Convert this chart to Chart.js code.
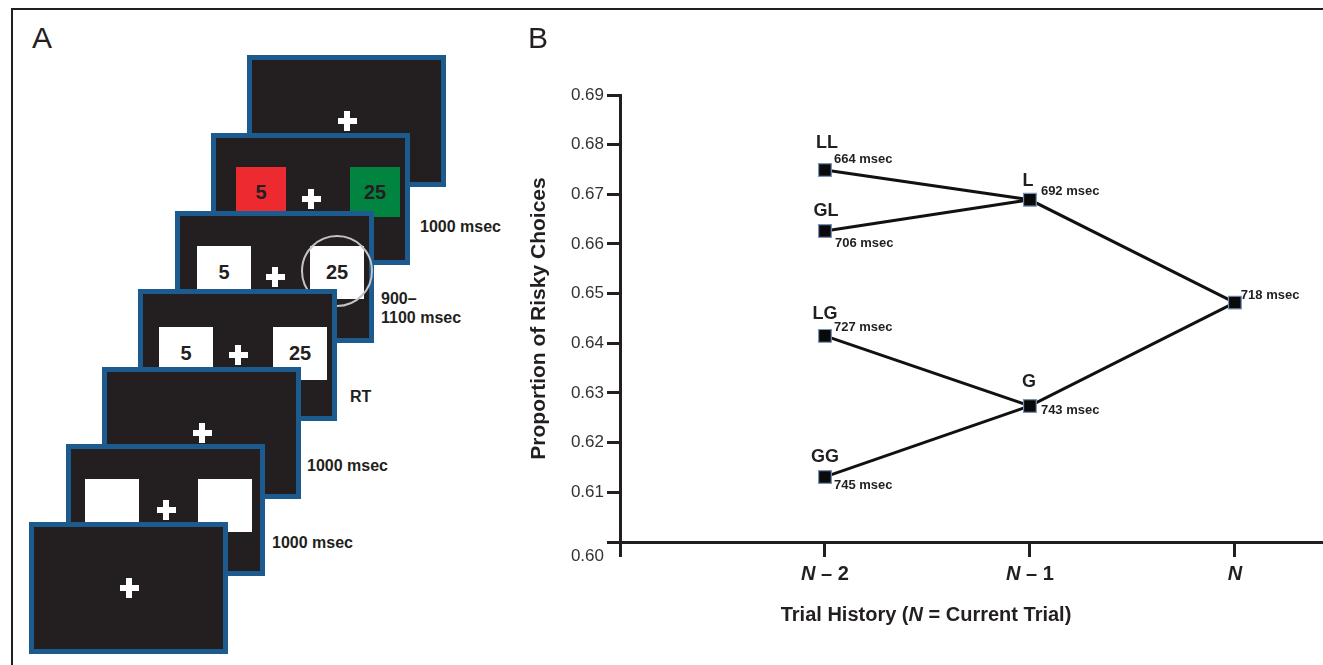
<!DOCTYPE html>
<html>
<head>
<meta charset="utf-8">
<script src="https://cdn.jsdelivr.net/npm/chart.js@4.4.1/dist/chart.umd.min.js"></script>
<style>
  html, body { margin: 0; padding: 0; background: #fff; }
  body {
    width: 1323px; height: 665px; position: relative; overflow: hidden;
    font-family: 'Liberation Sans', Arial, Helvetica, sans-serif; color: #231f20;
  }
  .frame-top { position: absolute; left: 11px; top: 8px; width: 1312px; height: 2px; background: #231f20; }
  .frame-left { position: absolute; left: 11px; top: 8px; width: 2px; height: 657px; background: #231f20; }
  .panel-letter { position: absolute; top: 23px; font-size: 30px; line-height: 30px; z-index: 20; }
  .screen {
    position: absolute; width: 189px; height: 122px;
    border: 5px solid #1d5b8f; background: #231f20;
  }
  .stim {
    position: absolute; display: flex; align-items: center; justify-content: center;
    font-weight: bold; font-size: 20px; color: #231f20;
  }
  .bar { position: absolute; background: #fff; }
  .ring { position: absolute; box-sizing: border-box; border: 2px solid #c4c4c4; border-radius: 50%; }
  .duration { position: absolute; font-weight: bold; font-size: 16px; line-height: 16px; white-space: nowrap; }
  #chartBox { position: absolute; left: 520px; top: 0; width: 803px; height: 665px; }
</style>
</head>
<body>
<div class="frame-top"></div>
<div class="frame-left"></div>
<div class="panel-letter" style="left:32px">A</div>
<div class="panel-letter" style="left:528px">B</div>
<div id="panelA"></div>
<div id="chartBox"><canvas id="chart"></canvas></div>

<script>
// ---- panel B data ----
const TRIAL_LABELS = ['N \u2013 2', 'N \u2013 1', 'N'];   // x = 1, 2, 3
const X_TICKS = [0, 1, 2, 3];
const Y_TICKS = [0.60, 0.61, 0.62, 0.63, 0.64, 0.65, 0.66, 0.67, 0.68, 0.69];

const HISTORY = ['LL', 'GL', 'LG', 'GG', 'L', 'G', ''];
const HISTORY_TRIAL = [1, 1, 1, 1, 2, 2, 3];
const RISKY_PROPORTION = [0.6749, 0.6626, 0.6415, 0.6131, 0.6689, 0.6274, 0.6482];
const RT_MSEC = [664, 706, 727, 745, 692, 743, 718];
// which conditions are joined by a line
const PATHS = [[0, 4, 6], [1, 4], [2, 5, 6], [3, 5]];

// label offsets (px) from each marker: [dx, dy]
const NAME_OFFSET = [[2, -27], [1, -20], [0, -22], [0, -20], [-2, -19], [-1, -24], null];
const RT_OFFSET = [[9, -11], [10, 12], [9, -8], [9, 8], [11, -8], [11, 5], [6, -7]];

// ---- panel A layout ----
const SCREENS = [
  { left: 247, top: 55 },
  { left: 211, top: 133, boxes: [
    { x: 20, y: 29, w: 50, h: 50, bg: '#ec2a30', text: '5' },
    { x: 134, y: 29, w: 50, h: 50, bg: '#00843f', text: '25' }] },
  { left: 175, top: 211, ring: true, boxes: [
    { x: 17, y: 30, w: 54, h: 53, bg: '#fff', text: '5' },
    { x: 130, y: 30, w: 54, h: 53, bg: '#fff', text: '25' }] },
  { left: 138, top: 289, boxes: [
    { x: 16, y: 33, w: 54, h: 53, bg: '#fff', text: '5' },
    { x: 130, y: 33, w: 54, h: 53, bg: '#fff', text: '25' }] },
  { left: 102, top: 367 },
  { left: 66, top: 444, boxes: [
    { x: 14, y: 30, w: 54, h: 53, bg: '#fff', text: '' },
    { x: 127, y: 30, w: 54, h: 53, bg: '#fff', text: '' }] },
  { left: 29, top: 522 }
];
const DURATIONS = [
  { left: 420, top: 219, lines: ['1000 msec'] },
  { left: 381, top: 289, lines: ['900\u2013', '1100 msec'] },
  { left: 350, top: 389, lines: ['RT'] },
  { left: 307, top: 458, lines: ['1000 msec'] },
  { left: 272, top: 535, lines: ['1000 msec'] }
];

const FONT = "'Liberation Sans', Arial, Helvetica, sans-serif";
const INK = '#231f20';

function place(el, x, y, w, h) {
  el.style.left = x + 'px';
  el.style.top = y + 'px';
  if (w != null) el.style.width = w + 'px';
  if (h != null) el.style.height = h + 'px';
}

function buildPanelA() {
  const host = document.getElementById('panelA');
  SCREENS.forEach((s, i) => {
    const scr = document.createElement('div');
    scr.className = 'screen';
    place(scr, s.left, s.top);
    scr.style.zIndex = i + 1;

    (s.boxes || []).forEach((b) => {
      const box = document.createElement('div');
      box.className = 'stim';
      place(box, b.x, b.y, b.w, b.h);
      box.style.background = b.bg;
      box.textContent = b.text;
      scr.appendChild(box);
    });

    // fixation cross
    const h = document.createElement('div');
    h.className = 'bar';
    place(h, 85.5, 57.75, 19, 6.5);
    const v = document.createElement('div');
    v.className = 'bar';
    place(v, 91.75, 51, 6.5, 20);
    scr.appendChild(h);
    scr.appendChild(v);

    if (s.ring) {
      const ring = document.createElement('div');
      ring.className = 'ring';
      place(ring, 121, 19, 72, 72);
      scr.appendChild(ring);
    }
    host.appendChild(scr);
  });

  DURATIONS.forEach((d) => {
    const el = document.createElement('div');
    el.className = 'duration';
    place(el, d.left, d.top);
    if (d.lines.length > 1) el.style.lineHeight = '19px';
    el.innerHTML = d.lines.join('<br>');
    el.style.zIndex = 10;
    host.appendChild(el);
  });
}

// draws text runs where only some parts are italic
function drawRuns(ctx, runs, cx, cy, size) {
  const widths = runs.map(([text, italic]) => {
    ctx.font = (italic ? 'italic ' : '') + 'bold ' + size + 'px ' + FONT;
    return ctx.measureText(text).width;
  });
  let x = cx - widths.reduce((a, b) => a + b, 0) / 2;
  runs.forEach(([text, italic], i) => {
    ctx.font = (italic ? 'italic ' : '') + 'bold ' + size + 'px ' + FONT;
    ctx.fillText(text, x, cy);
    x += widths[i];
  });
}

const annotate = {
  id: 'annotate',
  afterDraw(chart) {
    const { ctx, chartArea, scales: { x, y } } = chart;
    ctx.save();
    ctx.fillStyle = INK;
    ctx.textBaseline = 'middle';

    HISTORY.forEach((name, i) => {
      const px = x.getPixelForValue(HISTORY_TRIAL[i]);
      const py = y.getPixelForValue(RISKY_PROPORTION[i]);
      if (name && NAME_OFFSET[i]) {
        ctx.font = 'bold 18px ' + FONT;
        ctx.textAlign = 'center';
        ctx.fillText(name, px + NAME_OFFSET[i][0], py + NAME_OFFSET[i][1]);
      }
      ctx.font = 'bold 13px ' + FONT;
      ctx.textAlign = 'left';
      ctx.fillText(RT_MSEC[i] + ' msec', px + RT_OFFSET[i][0], py + RT_OFFSET[i][1]);
    });

    // x tick labels with italic N
    ctx.textAlign = 'left';
    TRIAL_LABELS.forEach((label, i) => {
      const px = x.getPixelForValue(i + 1);
      drawRuns(ctx, [[label.slice(0, 1), true], [label.slice(1), false]], px, chartArea.bottom + 32, 20);
    });

    // x axis title
    drawRuns(ctx, [['Trial History (', false], ['N', true], [' = Current Trial)', false]],
      chartArea.left + 306, chartArea.bottom + 73, 20);
    ctx.restore();
  }
};

function buildChart() {
  const lineSets = PATHS.map((path) => ({
    data: path.map((i) => ({ x: HISTORY_TRIAL[i], y: RISKY_PROPORTION[i] })),
    showLine: true,
    borderColor: '#111',
    borderWidth: 3,
    pointRadius: 0,
    tension: 0,
    order: 2
  }));

  const pointSet = {
    data: HISTORY.map((_, i) => ({ x: HISTORY_TRIAL[i], y: RISKY_PROPORTION[i] })),
    showLine: false,
    pointStyle: 'rect',
    pointRadius: 9,
    backgroundColor: '#0a0a0a',
    borderColor: '#7891b8',
    borderWidth: 1.2,
    order: 1
  };

  const axisGrid = (len) => ({
    drawOnChartArea: false,
    drawTicks: true,
    tickLength: len,
    color: INK,
    lineWidth: 3
  });

  new Chart(document.getElementById('chart'), {
    type: 'scatter',
    data: { datasets: [pointSet, ...lineSets] },
    options: {
      responsive: true,
      maintainAspectRatio: false,
      animation: false,
      layout: { autoPadding: false, padding: { top: 95, left: 0, right: 0, bottom: 0 } },
      plugins: {
        legend: { display: false },
        tooltip: { enabled: false }
      },
      scales: {
        x: {
          type: 'linear',
          position: 'bottom',
          min: 0,
          max: 3.43,
          afterBuildTicks: (scale) => { scale.ticks = X_TICKS.map((v) => ({ value: v })); },
          afterFit: (scale) => { scale.height = 123; },
          ticks: { callback: () => '', padding: 0, autoSkip: false },
          grid: axisGrid(15),
          border: { display: true, color: INK, width: 3 }
        },
        y: {
          type: 'linear',
          min: 0.6,
          max: 0.69,
          afterBuildTicks: (scale) => { scale.ticks = Y_TICKS.map((v) => ({ value: v })); },
          afterFit: (scale) => { scale.width = 100; },
          ticks: {
            autoSkip: false,
            padding: 3,
            color: '#333',
            font: (c) => ({ family: FONT, size: 17, lineHeight: c.index === 0 ? 28 / 17 : 1.2 }),
            // bottom label sits below the x axis
            callback: (v, i) => (i === 0 ? ['', Number(v).toFixed(2)] : Number(v).toFixed(2))
          },
          grid: axisGrid(13),
          border: { display: true, color: INK, width: 3 },
          title: {
            display: true,
            text: 'Proportion of Risky Choices',
            color: INK,
            font: { family: FONT, size: 21, weight: 'bold' },
            padding: { top: 7, bottom: 0 }
          }
        }
      }
    },
    plugins: [annotate]
  });
}

buildPanelA();
buildChart();
</script>
</body>
</html>
